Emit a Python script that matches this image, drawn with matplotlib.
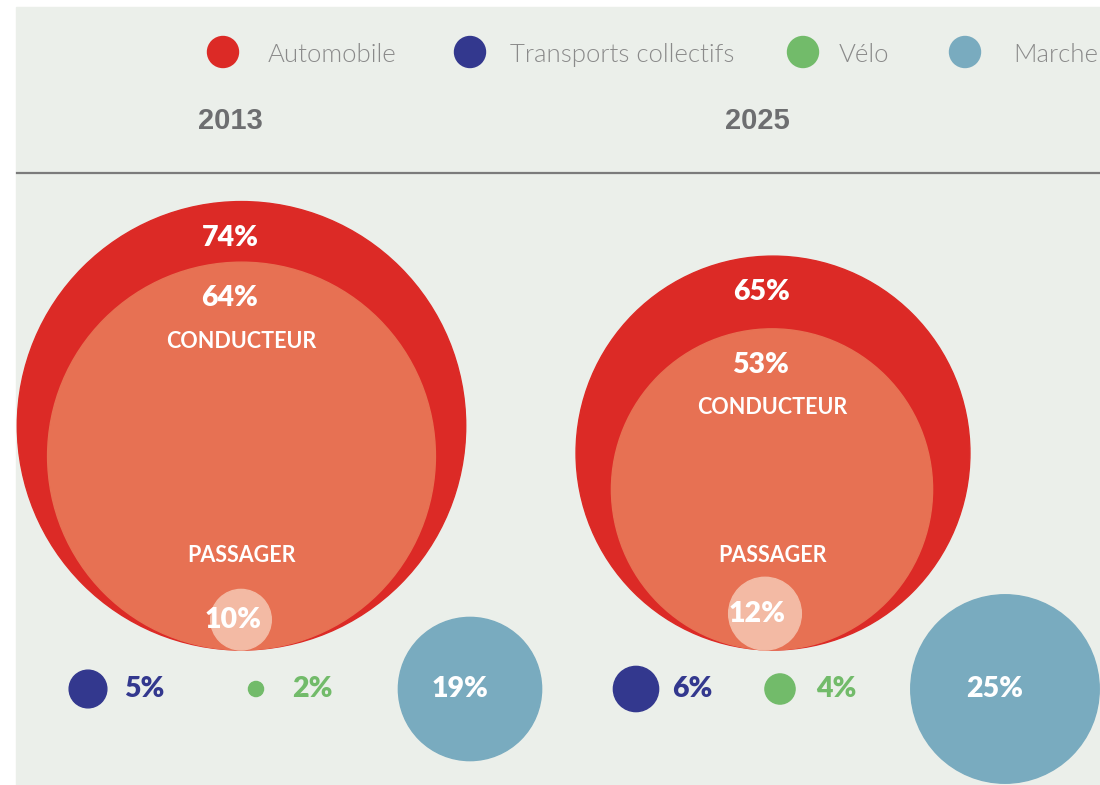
import matplotlib.pyplot as plt
from matplotlib.patches import Circle, Rectangle

# data
years = ["2013", "2025"]
automobile = [74, 65]
conducteur = [64, 53]
passager = [10, 12]
transports = [5, 6]
velo = [2, 4]
marche = [19, 25]
legend_labels = ["Automobile", "Transports collectifs", "Vélo", "Marche"]

# colours
red = "#dc2a26"
orange = "#e77153"
pale = "#f3baa4"
navy = "#33388e"
green = "#72bb6a"
grey_blue = "#79abbf"
bg = "#ebefea"
txt_grey = "#6d6e70"

# layout (pixels)
auto_k = 3.03      # px of radius per % for the car circles
other_k = 3.77     # px of radius per % for the bottom row
base_y = 650       # car circles sit on this line
row_y = 689
auto_x = [(241.5, 241.5, 241), (773, 772, 765)]
row_x = [(88, 256, 470), (636, 780, 1005)]
year_x = [230, 757]
pct_size = 20.5
cap_size = 15.5

plt.rcParams["font.family"] = ["Lato", "DejaVu Sans"]

fig = plt.figure(figsize=(11, 7.85), dpi=100)
ax = fig.add_axes([0, 0, 1, 1])
ax.set_xlim(0, 1100)
ax.set_ylim(785, 0)
ax.axis("off")

ax.add_patch(Rectangle((16, 7), 1100, 800, color=bg, zorder=0))
ax.plot([17, 1100], [173, 173], color="#7b7b7b", lw=1.6, zorder=1)

# legend
leg_x = [223, 470, 803, 965]
leg_tx = [268, 510, 839, 1013]
leg_cols = [red, navy, green, grey_blue]
for x, tx, c, lab in zip(leg_x, leg_tx, leg_cols, legend_labels):
    ax.add_patch(Circle((x, 52), 15.5, color=c, zorder=2))
    ax.text(tx, 55, lab, fontsize=18.5, fontweight=300, color="#8a8a8a",
            ha="left", va="center")

for i, yr in enumerate(years):
    ax.text(year_x[i], 121, yr, fontsize=21, fontweight="bold", color=txt_grey,
            family="Liberation Sans", ha="center", va="center")

    xa, xc, xp = auto_x[i]
    ra = automobile[i] * auto_k
    rc = conducteur[i] * auto_k
    rp = passager[i] * auto_k
    ax.add_patch(Circle((xa, base_y - ra), ra, color=red, zorder=2))
    ax.add_patch(Circle((xc, base_y - rc), rc, color=orange, zorder=3))
    ax.add_patch(Circle((xp, base_y - rp), rp, color=pale, zorder=4))

    ax.text(xa - 11, base_y - 2 * ra + 36, f"{automobile[i]}%", fontsize=pct_size,
            fontweight="heavy", color="white", ha="center", va="center", zorder=5)
    ax.text(xc - 12, base_y - 2 * rc + 36, f"{conducteur[i]}%", fontsize=pct_size,
            fontweight="heavy", color="white", ha="center", va="center", zorder=5)
    ax.text(xc, base_y - 2 * rc + 79, "CONDUCTEUR", fontsize=cap_size,
            fontweight="bold", color="white", ha="center", va="center", zorder=5)
    ax.text(xc, 556, "PASSAGER", fontsize=cap_size,
            fontweight="bold", color="white", ha="center", va="center", zorder=5)
    ax.text(xp - 8, base_y - rp, f"{passager[i]}%", fontsize=pct_size,
            fontweight="heavy", color="white", ha="center", va="center", zorder=5)

    xt, xv, xm = row_x[i]
    rt = transports[i] * other_k
    rv = velo[i] * other_k
    rm = marche[i] * other_k
    ax.add_patch(Circle((xt, row_y), rt, color=navy, zorder=2))
    ax.add_patch(Circle((xv, row_y), rv, color=green, zorder=2))
    ax.add_patch(Circle((xm, row_y), rm, color=grey_blue, zorder=2))
    ax.text(xt + 36, row_y, f"{transports[i]}%", fontsize=pct_size, fontweight="heavy",
            color=navy, ha="left", va="center", zorder=5)
    ax.text(xv + 36, row_y, f"{velo[i]}%", fontsize=pct_size, fontweight="heavy",
            color=green, ha="left", va="center", zorder=5)
    ax.text(xm - 10, row_y, f"{marche[i]}%", fontsize=pct_size, fontweight="heavy",
            color="white", ha="center", va="center", zorder=5)

fig.savefig("out.png", dpi=100, facecolor="white")
